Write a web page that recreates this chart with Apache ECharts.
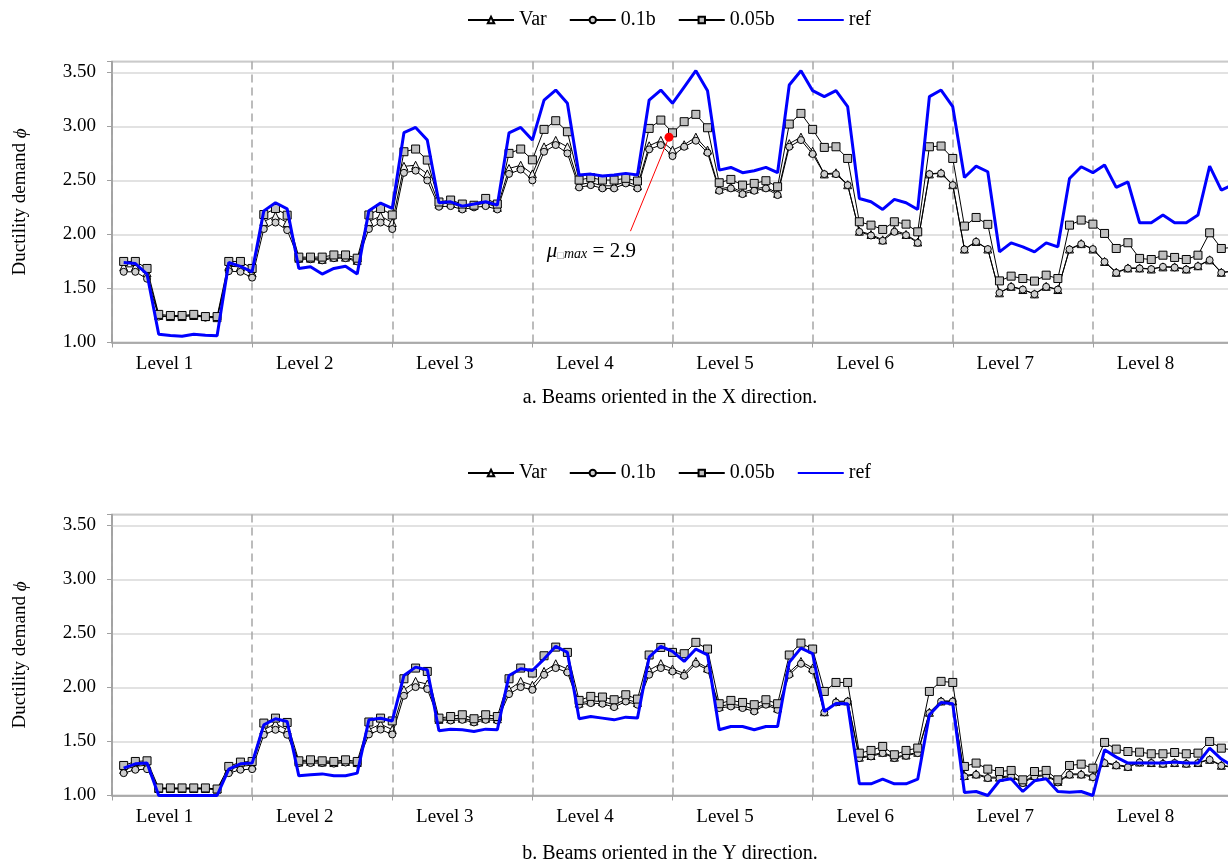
<!DOCTYPE html>
<html>
<head>
<meta charset="utf-8">
<script src="https://cdn.jsdelivr.net/npm/echarts@6/dist/echarts.min.js"></script>
<style>
  html, body { margin: 0; padding: 0; overflow: hidden; background: #fff; }
  #chart { width: 1250px; height: 863px; }
</style>
</head>
<body>
<div id="chart"></div>
<script>
// Ductility demand of beams, 12 beams per level, 8 levels (beam index 1..96)
const levels = ['Level 1', 'Level 2', 'Level 3', 'Level 4', 'Level 5', 'Level 6', 'Level 7', 'Level 8'];
const seriesNames = ['Var', '0.1b', '0.05b', 'ref'];
const captions = ['a. Beams oriented in the X direction.', 'b. Beams oriented in the Y direction.'];
const yTicks = [1.0, 1.5, 2.0, 2.5, 3.0, 3.5];
const muMax = 2.9;

// X direction
const xVar = [
  1.70, 1.70, 1.645, 1.25, 1.24, 1.24, 1.25, 1.24, 1.23, 1.705, 1.70, 1.645,
  2.12, 2.17, 2.11, 1.78, 1.78, 1.77, 1.79, 1.79, 1.76, 2.12, 2.17, 2.11,
  2.63, 2.64, 2.56, 2.28, 2.29, 2.25, 2.27, 2.29, 2.25, 2.61, 2.64, 2.56,
  2.81, 2.87, 2.81, 2.46, 2.48, 2.45, 2.45, 2.49, 2.45, 2.82, 2.87, 2.78,
  2.83, 2.90, 2.78, 2.42, 2.44, 2.39, 2.42, 2.44, 2.38, 2.84, 2.90, 2.77,
  2.56, 2.57, 2.46, 2.03, 2.00, 1.95, 2.04, 2.00, 1.93, 2.56, 2.57, 2.46,
  1.865, 1.935, 1.865, 1.46, 1.52, 1.49, 1.45, 1.52, 1.49, 1.865, 1.915, 1.865,
  1.75, 1.65, 1.69, 1.69, 1.68, 1.70, 1.70, 1.68, 1.71, 1.765, 1.65, 1.66
];
const x01b = [
  1.654, 1.654, 1.59, 1.24, 1.24, 1.24, 1.25, 1.23, 1.23, 1.66, 1.654, 1.60,
  2.05, 2.11, 2.04, 1.77, 1.77, 1.76, 1.78, 1.78, 1.75, 2.05, 2.11, 2.05,
  2.57, 2.59, 2.50, 2.256, 2.262, 2.231, 2.25, 2.262, 2.231, 2.56, 2.60, 2.50,
  2.765, 2.827, 2.75, 2.435, 2.456, 2.426, 2.426, 2.472, 2.426, 2.787, 2.827, 2.725,
  2.811, 2.867, 2.756, 2.404, 2.426, 2.373, 2.404, 2.426, 2.364, 2.811, 2.873, 2.744,
  2.558, 2.558, 2.456, 2.024, 1.99, 1.941, 2.024, 1.993, 1.922, 2.558, 2.565, 2.456,
  1.861, 1.932, 1.864, 1.459, 1.515, 1.49, 1.447, 1.515, 1.49, 1.861, 1.91, 1.864,
  1.746, 1.645, 1.685, 1.685, 1.679, 1.70, 1.694, 1.676, 1.706, 1.762, 1.645, 1.66
];
const x005b = [
  1.75, 1.75, 1.685, 1.26, 1.25, 1.25, 1.26, 1.24, 1.24, 1.75, 1.75, 1.685,
  2.184, 2.24, 2.178, 1.79, 1.79, 1.79, 1.81, 1.81, 1.78, 2.18, 2.24, 2.18,
  2.765, 2.79, 2.688, 2.30, 2.318, 2.281, 2.27, 2.333, 2.281, 2.75, 2.79, 2.69,
  2.972, 3.052, 2.95, 2.503, 2.525, 2.503, 2.503, 2.519, 2.494, 2.981, 3.058, 2.94,
  3.043, 3.111, 2.987, 2.478, 2.509, 2.456, 2.472, 2.497, 2.441, 3.021, 3.12, 2.972,
  2.805, 2.811, 2.703, 2.117, 2.086, 2.046, 2.117, 2.095, 2.024, 2.811, 2.818, 2.703,
  2.077, 2.157, 2.093, 1.57, 1.614, 1.592, 1.568, 1.623, 1.592, 2.086, 2.133, 2.095,
  2.009, 1.87, 1.923, 1.778, 1.768, 1.808, 1.787, 1.768, 1.808, 2.015, 1.87, 1.88
];
const xRef = [
  1.74, 1.731, 1.632, 1.077, 1.065, 1.058, 1.077, 1.068, 1.062, 1.74, 1.705, 1.654,
  2.218, 2.293, 2.237, 1.685, 1.70, 1.633, 1.685, 1.706, 1.633, 2.22, 2.29, 2.24,
  2.941, 2.99, 2.873, 2.293, 2.302, 2.262, 2.281, 2.302, 2.271, 2.94, 2.99, 2.873,
  3.243, 3.336, 3.213, 2.549, 2.558, 2.54, 2.549, 2.565, 2.549, 3.243, 3.336, 3.213,
  3.364, 3.515, 3.33, 2.595, 2.62, 2.571, 2.589, 2.62, 2.571, 3.382, 3.515, 3.33,
  3.275, 3.33, 3.182, 2.333, 2.302, 2.231, 2.324, 2.293, 2.231, 3.275, 3.336, 3.182,
  2.527, 2.632, 2.58, 1.839, 1.922, 1.885, 1.839, 1.922, 1.885, 2.518, 2.626, 2.571,
  2.642, 2.435, 2.487, 2.108, 2.108, 2.179, 2.108, 2.108, 2.179, 2.632, 2.41, 2.46
];

// Y direction
const yVar = [
  1.24, 1.27, 1.28, 1.065, 1.065, 1.065, 1.065, 1.065, 1.06, 1.24, 1.27, 1.28,
  1.608, 1.665, 1.608, 1.31, 1.315, 1.31, 1.305, 1.315, 1.305, 1.61, 1.66, 1.61,
  1.978, 2.056, 2.031, 1.705, 1.71, 1.715, 1.69, 1.715, 1.71, 1.98, 2.056, 2.02,
  2.148, 2.219, 2.17, 1.855, 1.875, 1.87, 1.84, 1.89, 1.86, 2.16, 2.22, 2.17,
  2.13, 2.24, 2.18, 1.825, 1.845, 1.83, 1.80, 1.855, 1.81, 2.14, 2.24, 2.18,
  1.775, 1.87, 1.875, 1.355, 1.37, 1.40, 1.355, 1.375, 1.40, 1.77, 1.875, 1.875,
  1.185, 1.20, 1.17, 1.17, 1.185, 1.125, 1.185, 1.19, 1.13, 1.20, 1.20, 1.18,
  1.305, 1.285, 1.27, 1.31, 1.305, 1.30, 1.305, 1.30, 1.305, 1.335, 1.28, 1.265
];
const y01b = [
  1.207, 1.238, 1.244, 1.06, 1.06, 1.06, 1.06, 1.06, 1.055, 1.207, 1.238, 1.244,
  1.562, 1.608, 1.562, 1.30, 1.30, 1.30, 1.295, 1.305, 1.295, 1.565, 1.61, 1.565,
  1.923, 2.003, 1.985, 1.70, 1.694, 1.70, 1.676, 1.70, 1.694, 1.938, 2.003, 1.978,
  2.117, 2.179, 2.139, 1.84, 1.855, 1.849, 1.818, 1.87, 1.84, 2.117, 2.179, 2.148,
  2.108, 2.219, 2.164, 1.809, 1.824, 1.809, 1.778, 1.84, 1.793, 2.117, 2.219, 2.157,
  1.769, 1.861, 1.87, 1.346, 1.361, 1.392, 1.346, 1.367, 1.392, 1.762, 1.87, 1.87,
  1.176, 1.192, 1.161, 1.161, 1.176, 1.115, 1.176, 1.182, 1.121, 1.192, 1.192, 1.17,
  1.30, 1.278, 1.262, 1.306, 1.30, 1.293, 1.30, 1.293, 1.30, 1.33, 1.275, 1.26
];
const y005b = [
  1.278, 1.315, 1.321, 1.07, 1.07, 1.07, 1.07, 1.07, 1.06, 1.269, 1.309, 1.315,
  1.67, 1.716, 1.676, 1.321, 1.33, 1.321, 1.315, 1.33, 1.315, 1.68, 1.716, 1.69,
  2.08, 2.179, 2.148, 1.716, 1.731, 1.747, 1.71, 1.747, 1.731, 2.08, 2.179, 2.133,
  2.293, 2.373, 2.324, 1.88, 1.917, 1.911, 1.886, 1.932, 1.892, 2.30, 2.37, 2.324,
  2.312, 2.417, 2.355, 1.849, 1.88, 1.861, 1.84, 1.886, 1.849, 2.30, 2.41, 2.355,
  1.963, 2.046, 2.046, 1.392, 1.417, 1.454, 1.377, 1.417, 1.439, 1.963, 2.056, 2.046,
  1.269, 1.30, 1.244, 1.222, 1.232, 1.145, 1.222, 1.232, 1.145, 1.278, 1.29, 1.253,
  1.491, 1.429, 1.407, 1.401, 1.386, 1.386, 1.398, 1.386, 1.392, 1.50, 1.438, 1.42
];
const yRef = [
  1.253, 1.293, 1.30, 1.00, 1.00, 1.00, 1.00, 1.00, 1.00, 1.244, 1.293, 1.30,
  1.654, 1.71, 1.685, 1.182, 1.191, 1.20, 1.182, 1.182, 1.207, 1.70, 1.715, 1.69,
  2.111, 2.188, 2.164, 1.599, 1.614, 1.608, 1.593, 1.614, 1.608, 2.111, 2.173, 2.157,
  2.262, 2.38, 2.324, 1.71, 1.731, 1.716, 1.70, 1.725, 1.716, 2.28, 2.38, 2.333,
  2.241, 2.355, 2.302, 1.608, 1.639, 1.639, 1.608, 1.639, 1.639, 2.232, 2.364, 2.312,
  1.778, 1.852, 1.849, 1.108, 1.108, 1.151, 1.108, 1.108, 1.151, 1.747, 1.861, 1.849,
  1.028, 1.037, 1.00, 1.136, 1.155, 1.037, 1.136, 1.155, 1.037, 1.031, 1.037, 1.00,
  1.423, 1.355, 1.30, 1.30, 1.30, 1.30, 1.309, 1.30, 1.30, 1.439, 1.337, 1.27
];

const FONT = '"Liberation Serif", "Times New Roman", serif';
const GRID_LINE = '#d9d9d9';
const FRAME = '#a0a0a0';

// level labels sit on a 32-slot category axis (one label every 4 slots)
const levelSlots = [];
for (let s = 0; s < 32; s++) levelSlots.push(s % 4 === 1 ? levels[(s - 1) / 4] : '');

const toPairs = arr => arr.map((v, k) => [k + 1, v]);

const panels = [
  { top: 61.5, legendTop: 5, titleTop: 383, data: [xVar, x01b, x005b, xRef] },
  { top: 514.5, legendTop: 458, titleTop: 839, data: [yVar, y01b, y005b, yRef] }
];

const styles = [
  { symbol: 'triangle', symbolSize: 8, fill: '#f0f0f0', line: '#000', width: 1 },
  { symbol: 'circle', symbolSize: 7, fill: '#cfcfcf', line: '#000', width: 1 },
  { symbol: 'rect', symbolSize: 8, fill: '#bfbfbf', line: '#000', width: 1 },
  { symbol: 'none', symbolSize: 0, fill: '#0000ff', line: '#0000ff', width: 3 }
];

// legend entries; the reference line shows no marker
const legendItems = seriesNames.map(n => (n === 'ref'
  ? { name: n, itemStyle: { color: 'rgba(0,0,0,0)', borderWidth: 0 } }
  : { name: n }));

const option = {
  animation: false,
  backgroundColor: '#fff',
  title: [], legend: [], grid: [], xAxis: [], yAxis: [], series: []
};

panels.forEach((p, gi) => {
  option.grid.push({
    left: 112, top: p.top, width: 1121, height: 281,
    show: true, borderColor: FRAME, borderWidth: 1.5, backgroundColor: 'transparent'
  });
  option.title.push({
    text: captions[gi], left: 665, top: p.titleTop, textAlign: 'center',
    textStyle: { fontFamily: FONT, fontSize: 20, fontWeight: 'normal', color: '#000' }
  });
  option.legend.push({
    data: legendItems, top: p.legendTop, left: 462,
    itemWidth: 46, itemHeight: 8, itemGap: 22,
    textStyle: { fontFamily: FONT, fontSize: 20, color: '#000' }
  });
  // beam index axis: separators every 12 beams
  option.xAxis.push({
    type: 'value', gridIndex: gi, min: 0, max: 96, interval: 12, position: 'bottom',
    axisLine: { show: true, onZero: false, lineStyle: { color: FRAME, width: 1.5 } },
    axisTick: { show: true, length: 5, lineStyle: { color: FRAME, width: 1 } },
    axisLabel: { show: false },
    splitLine: { show: true, lineStyle: { color: '#a6a6a6', width: 1.5, type: [8, 5] } }
  });
  // level names
  option.xAxis.push({
    type: 'category', gridIndex: gi, position: 'bottom', data: levelSlots, boundaryGap: true,
    axisLine: { show: false }, axisTick: { show: false }, splitLine: { show: false },
    axisLabel: { interval: 0, fontFamily: FONT, fontSize: 19, color: '#000', margin: 12 }
  });
  option.yAxis.push({
    type: 'value', gridIndex: gi, min: 1, max: 3.6, interval: 0.5,
    name: '{t|Ductility demand }{p|ϕ}', nameLocation: 'middle', nameGap: 82,
    nameTextStyle: {
      rich: {
        t: { fontFamily: FONT, fontSize: 19, color: '#000' },
        p: { fontFamily: FONT, fontSize: 19, color: '#000', fontStyle: 'italic' }
      }
    },
    axisLine: { show: true, lineStyle: { color: FRAME, width: 1.5 } },
    axisTick: { show: true, length: 5, lineStyle: { color: FRAME, width: 1 } },
    axisLabel: {
      fontFamily: FONT, fontSize: 19, color: '#000', margin: 16,
      formatter: v => (yTicks.some(t => Math.abs(t - v) < 1e-9) ? v.toFixed(2) : '')
    },
    splitLine: { show: true, lineStyle: { color: GRID_LINE, width: 1.5 } }
  });
  p.data.forEach((arr, si) => {
    const st = styles[si];
    option.series.push({
      type: 'line', name: seriesNames[si],
      xAxisIndex: gi * 2, yAxisIndex: gi,
      data: toPairs(arr),
      symbol: st.symbol, symbolSize: st.symbolSize,
      showSymbol: st.symbol !== 'none',
      lineStyle: { color: st.line, width: st.width },
      itemStyle: st.symbol === 'none'
        ? { color: st.fill }
        : { color: st.fill, borderColor: '#000', borderWidth: 1 },
      emphasis: { disabled: true },
      z: 2 + si
    });
  });
});

// maximum ductility marker with its leader line and note
option.series.push({
  type: 'line', name: 'muMax', xAxisIndex: 0, yAxisIndex: 0, data: [], z: 20,
  markLine: {
    silent: true, symbol: ['none', 'none'], animation: false,
    lineStyle: { color: '#ff0000', width: 1, type: 'solid' },
    label: { show: false },
    data: [[{ coord: [47.7, muMax] }, { coord: [44.4, 2.03] }]]
  },
  markPoint: {
    silent: true, animation: false,
    data: [
      { coord: [47.7, muMax], symbol: 'circle', symbolSize: 9,
        itemStyle: { color: '#ff0000' }, label: { show: false } },
      { coord: [41.05, 1.845], symbol: 'circle', symbolSize: 1,
        itemStyle: { color: 'rgba(0,0,0,0)' },
        label: {
          show: true, position: 'inside',
          formatter: '{m|μ}{b|□}{s|max}{e| = ' + muMax + '}',
          rich: {
            m: { fontFamily: FONT, fontSize: 21, fontStyle: 'italic', color: '#000' },
            b: { fontFamily: FONT, fontSize: 11, color: '#888', verticalAlign: 'bottom' },
            s: { fontFamily: FONT, fontSize: 14, fontStyle: 'italic', color: '#000', verticalAlign: 'bottom' },
            e: { fontFamily: FONT, fontSize: 21, color: '#000' }
          }
        }
      }
    ]
  }
});

const chart = echarts.init(document.getElementById('chart'), null, { renderer: 'canvas' });
chart.setOption(option);
</script>
</body>
</html>
